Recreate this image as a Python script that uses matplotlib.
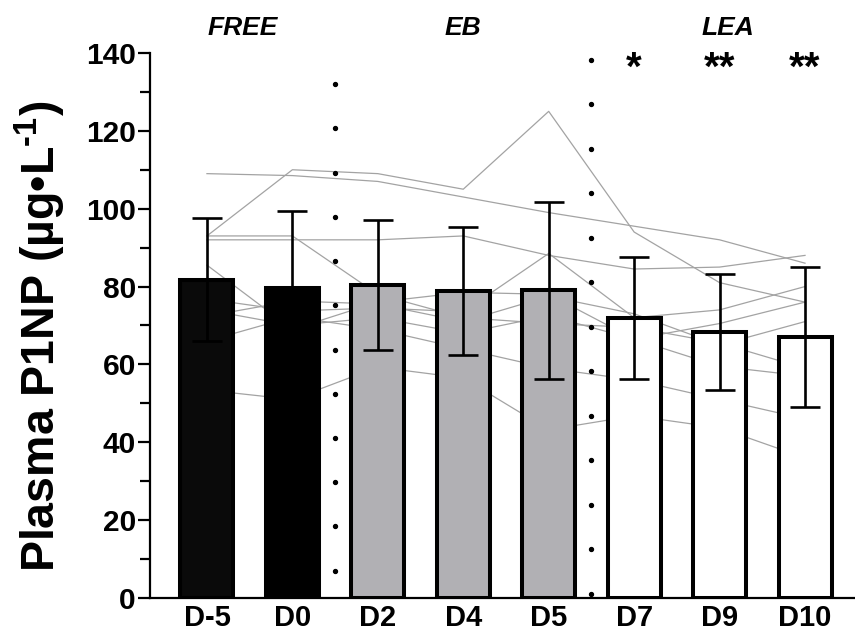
import numpy as np
import matplotlib.pyplot as plt

plt.rcParams['font.family'] = ['Liberation Sans', 'DejaVu Sans']
plt.rcParams['mathtext.fontset'] = 'custom'
plt.rcParams['mathtext.rm'] = 'Liberation Sans:bold'
plt.rcParams['mathtext.default'] = 'rm'

# group means and SD of plasma P1NP
days = ['D-5', 'D0', 'D2', 'D4', 'D5', 'D7', 'D9', 'D10']
means = [81.7, 79.5, 80.4, 78.9, 79.0, 71.9, 68.3, 67.0]
sds = [15.8, 20.0, 16.6, 16.4, 22.7, 15.6, 15.0, 17.9]
bar_colors = ['#0a0a0a', '#000000', '#b1b0b4', '#b1b0b4', '#b1b0b4',
              '#ffffff', '#ffffff', '#ffffff']

# individual participants
subjects = [
    [109.0, 108.5, 107.0, 103.0, 99.0, 95.5, 92.0, 86.0],
    [93.0, 110.0, 109.0, 105.0, 125.0, 94.0, 81.0, 76.0],
    [92.0, 92.0, 92.0, 93.0, 88.0, 84.5, 85.0, 88.0],
    [93.0, 93.0, 78.0, 72.0, 70.5, 69.5, 65.5, 59.0],
    [85.5, 69.0, 76.0, 78.5, 78.0, 66.5, 59.5, 57.0],
    [76.8, 73.7, 74.5, 73.5, 88.5, 72.0, 74.0, 80.0],
    [72.4, 76.3, 75.5, 71.0, 77.5, 73.0, 65.0, 71.0],
    [74.0, 70.0, 72.0, 68.0, 72.5, 66.5, 70.5, 76.0],
    [66.0, 72.2, 69.0, 64.0, 59.0, 56.0, 51.0, 46.0],
    [53.4, 51.0, 59.3, 56.5, 43.2, 46.8, 43.7, 36.0],
]

groups = ['FREE', 'EB', 'LEA']
group_pos = [0.42, 3.0, 6.1]
stars = ['*', '**', '**']
star_pos = [5, 6, 7]

x = np.arange(len(days))

fig = plt.figure(figsize=(8.55, 6.35), dpi=100)
ax = fig.add_axes([0.1754, 0.0583, 0.8246, 0.8583])

for s in subjects:
    ax.plot(x, s, color='#a3a3a3', lw=0.9, zorder=1)

ax.bar(x, means, width=0.62, color=bar_colors, edgecolor='black',
       linewidth=2.9, zorder=2)
ax.errorbar(x, means, yerr=sds, fmt='none', ecolor='black', elinewidth=1.9,
            capsize=10.8, capthick=1.9, zorder=3)

# dotted phase separators
ax.scatter(np.full(12, 1.5), np.linspace(7, 132, 12), s=8, color='black',
           zorder=3, clip_on=False)
ax.scatter(np.full(13, 4.5), np.linspace(1.1, 138.2, 13), s=8, color='black',
           zorder=3, clip_on=False)

for g, gx in zip(groups, group_pos):
    ax.text(gx, 146.5, g, ha='center', va='center', fontsize=19,
            fontweight='bold', fontstyle='italic', clip_on=False)
for st, sx in zip(stars, star_pos):
    ax.text(sx, 136.0, st, ha='center', va='center', fontsize=29,
            fontweight='bold', clip_on=False)

ax.set_xlim(-0.667, 7.585)
ax.set_ylim(0, 140)
ax.set_yticks(np.arange(0, 141, 20))
ax.set_yticks(np.arange(10, 140, 20), minor=True)
ax.set_xticks(x)
ax.set_xticklabels(days)
ax.tick_params(axis='y', which='major', length=9, width=1.6, labelsize=21.5,
               pad=1.2)
ax.tick_params(axis='y', which='minor', length=7, width=1.6)
ax.tick_params(axis='x', length=0, labelsize=21, pad=4.5)
for lab in ax.get_xticklabels() + ax.get_yticklabels():
    lab.set_fontweight('bold')

ax.spines['top'].set_visible(False)
ax.spines['right'].set_visible(False)
ax.spines['left'].set_linewidth(1.6)
ax.spines['bottom'].set_linewidth(1.6)

ax.set_ylabel(r'Plasma P1NP (µg•L$^{\text{-1}}$)', fontsize=33.5,
              fontweight='bold', va='center')
ax.yaxis.set_label_coords(-0.155, 0.48)

fig.savefig('out.png', dpi=100)
